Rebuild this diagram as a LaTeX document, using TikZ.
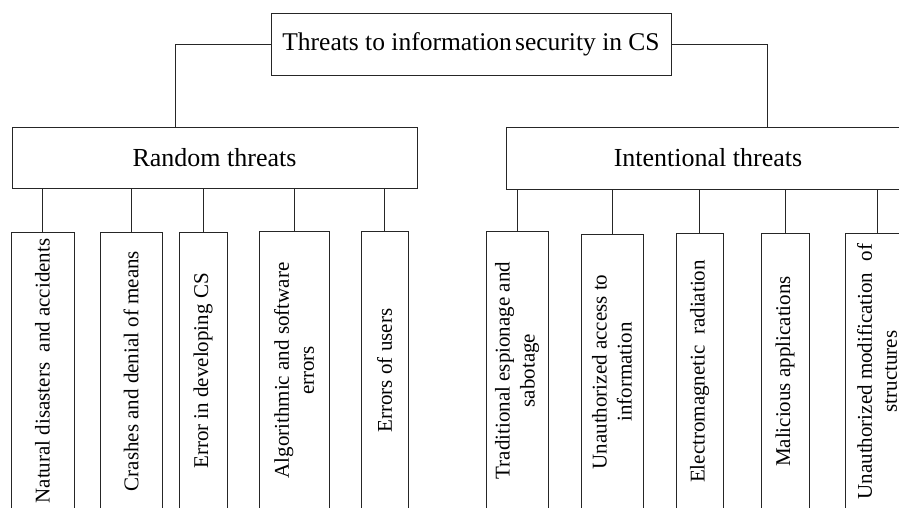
\documentclass[tikz,border=0pt]{standalone}
\usepackage{fontspec}
\setmainfont{Liberation Serif}
\begin{document}
\begin{tikzpicture}[x=1pt,y=-1pt,
  box/.style={draw=black!85, line width=0.9pt, inner sep=0pt},
  leaf/.style={box, rotate=90, align=center, font=\fontsize{21}{25}\selectfont},
  conn/.style={draw=black!85, line width=0.9pt}]
\useasboundingbox (0,0) rectangle (899,508);
\clip (0,0) rectangle (899,508);
% top
\node[box, minimum width=400, minimum height=62, font=\fontsize{25.5}{30}\selectfont] (top) at (471,44) {Threats to information\hspace{-0.12em} security in CS};
\node[box, minimum width=405, minimum height=61, font=\fontsize{26}{30}\selectfont] (rand) at (214.5,157.5) {Random threats};
\node[box, minimum width=404, minimum height=62, font=\fontsize{26}{30}\selectfont] (intn) at (708,158) {Intentional threats};
\coordinate (lx) at (175,0);
\coordinate (rx) at (767,0);
\draw[conn] (top.west) -| (rand.north -| lx);
\draw[conn] (top.east) -| (intn.north -| rx);
% random leaves
\node[leaf, minimum width=278, minimum height=63] (r1) at (42.5,371) {Natural disasters\hspace{0.25em} and accidents};
\node[leaf, minimum width=278, minimum height=62] (r2) at (131,371) {Crashes and denial of means};
\node[leaf, minimum width=278, minimum height=48] (r3) at (203,371) {Error in developing CS};
\node[leaf, minimum width=279, minimum height=70] (r4) at (294,370.5) {Algorithmic and software\\errors};
\node[leaf, minimum width=279, minimum height=47] (r5) at (384.5,370.5) {Errors of users};
% intentional leaves
\node[leaf, minimum width=279, minimum height=62] (i1) at (517,370.5) {Traditional espionage and\\sabotage};
\node[leaf, minimum width=276, minimum height=62] (i2) at (612,372) {Unauthorized access to\\information};
\node[leaf, minimum width=277, minimum height=47] (i3) at (699.5,371.5) {Electromagnetic\hspace{0.25em} radiation};
\node[leaf, minimum width=277, minimum height=48] (i4) at (785,371.5) {Malicious applications};
\node[leaf, minimum width=277, minimum height=64] (i5) at (877,371.5) {Unauthorized modification\hspace{0.3em} of\\structures};
% connectors
\foreach \c in {r1,r2,r3,r4,r5} \draw[conn] (rand.south -| \c.center) -- (\c.east);
\foreach \c in {i1,i2,i3,i4,i5} \draw[conn] (intn.south -| \c.center) -- (\c.east);
\end{tikzpicture}
\end{document}
